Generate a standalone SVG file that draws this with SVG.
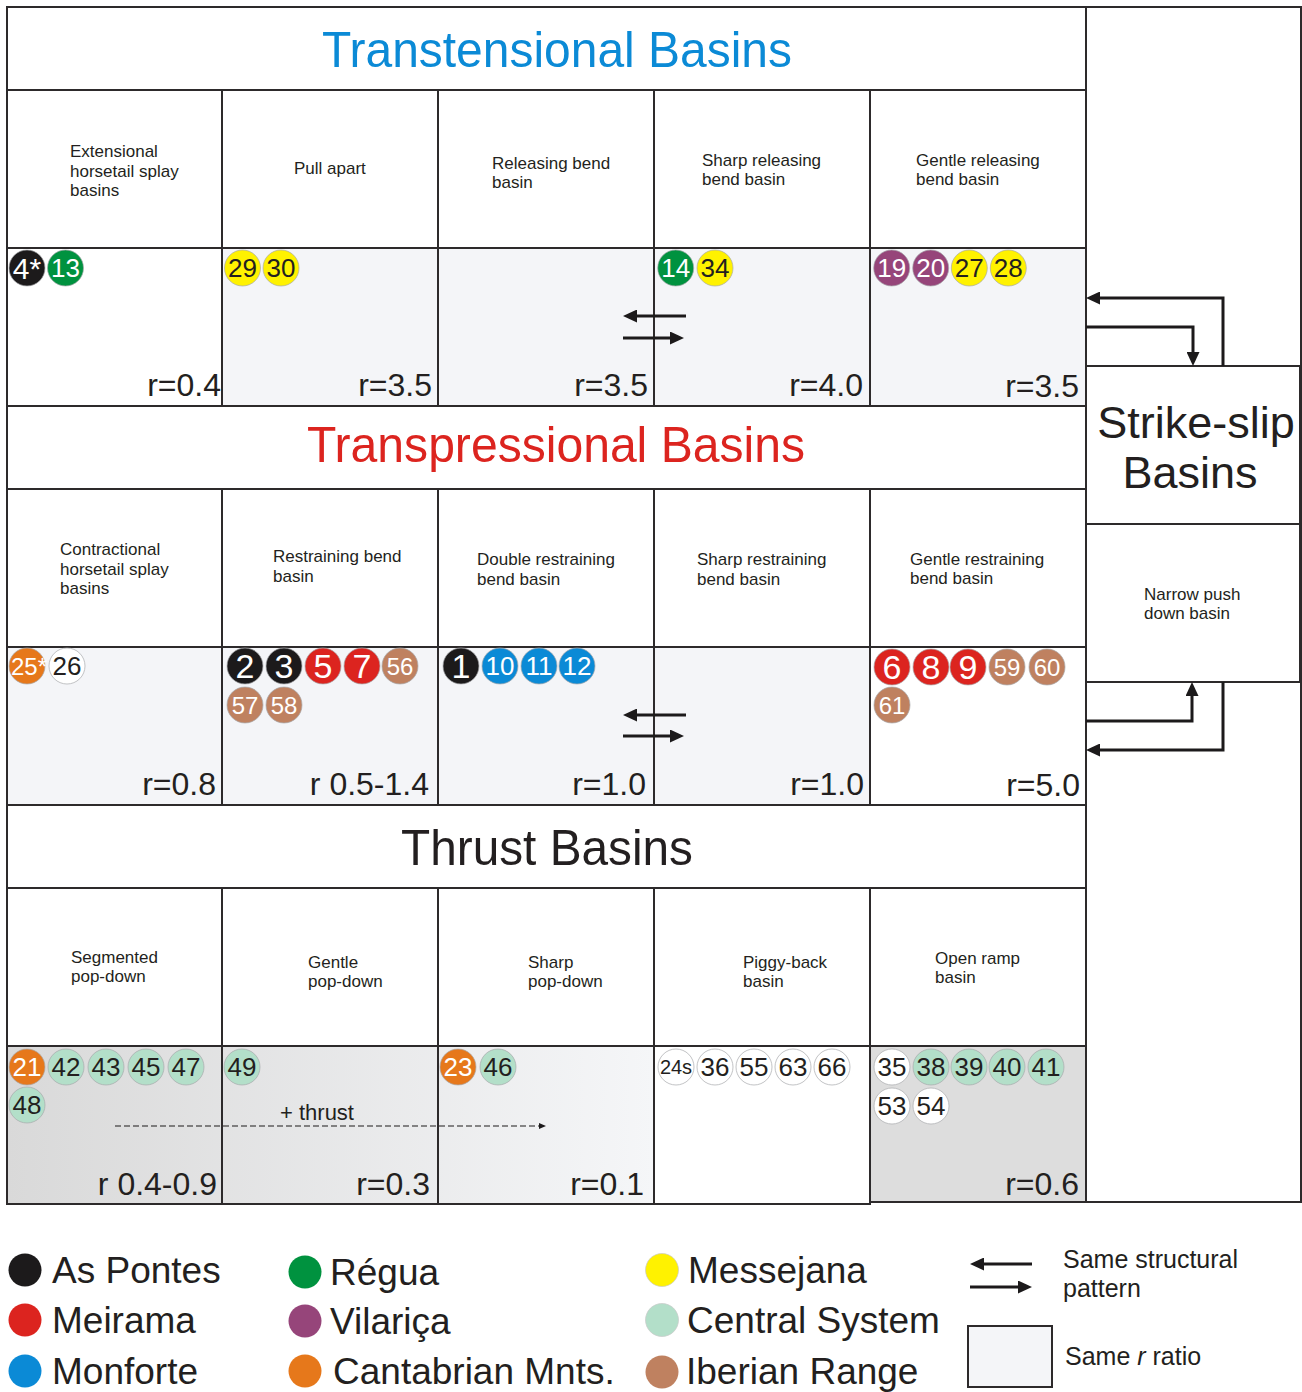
<svg xmlns="http://www.w3.org/2000/svg" width="1302" height="1392" viewBox="0 0 1302 1392">
<defs>
<style>
text{font-family:"Liberation Sans",Arial,sans-serif;fill:#231f20}
.cell{fill:#fff;stroke:#2d2a2b;stroke-width:2}
.sh{fill:#f4f5f8}
.nm{font-size:17px}
.rr{font-size:32px;text-anchor:end}
.hd{font-size:50px;text-anchor:middle}
.bd circle{stroke:#a7a9ac;stroke-width:0.7}
.bd text{text-anchor:middle;font-size:26px}
.bd text.s1{font-size:34px}
.bd text.w{fill:#fff}
.k{fill:#1c1a1b}.rd{fill:#dc241f}.bl{fill:#0b8ad6}.gr{fill:#00923f}.pu{fill:#96457a}
.or{fill:#e6781b}.ye{fill:#fff200}.cs{fill:#b3dfc9}.br{fill:#bf8160}.wh{fill:#fff}
.lg text{font-size:37px}
.con{fill:none;stroke:#1c1a1b;stroke-width:3}
</style>
<marker id="ah" viewBox="0 0 14 13" refX="4" refY="6.5" markerWidth="14" markerHeight="13" markerUnits="userSpaceOnUse" orient="auto"><path d="M0,0 L14,6.5 L0,13 z" fill="#1c1a1b"/></marker>
<marker id="ahs" viewBox="0 0 7 6" refX="2" refY="3" markerWidth="7" markerHeight="6" markerUnits="userSpaceOnUse" orient="auto"><path d="M0,0 L7,3 L0,6 z" fill="#1c1a1b"/></marker>
<linearGradient id="thr" gradientUnits="userSpaceOnUse" x1="7" y1="0" x2="654" y2="0"><stop offset="0" stop-color="#d9d9d9"/><stop offset="1" stop-color="#f5f6f8"/></linearGradient>
</defs>
<rect width="1302" height="1392" fill="#fff"/>

<!-- right column frame -->
<g id="strike-slip-column"><rect class="cell" x="1086" y="7" width="215" height="1195"/></g>

<!-- headers -->
<g id="hdr-transtensional"><rect class="cell" x="7" y="7" width="1079" height="83"/><text class="hd" x="557" y="67" textLength="470" lengthAdjust="spacingAndGlyphs" style="fill:#0b8ad6">Transtensional Basins</text></g>
<g id="hdr-transpressional"><rect class="cell" x="7" y="406" width="1079" height="83"/><text class="hd" x="556" y="462" textLength="498" lengthAdjust="spacingAndGlyphs" style="fill:#dc241f">Transpressional Basins</text></g>
<g id="hdr-thrust"><rect class="cell" x="7" y="805" width="1079" height="83"/><text class="hd" x="547" y="865" textLength="292" lengthAdjust="spacingAndGlyphs">Thrust Basins</text></g>

<!-- row 1 names -->
<g id="n-ext-horsetail"><rect class="cell" x="7" y="90" width="215" height="158"/><text class="nm" x="70" y="157">Extensional</text><text class="nm" x="70" y="177">horsetail splay</text><text class="nm" x="70" y="196">basins</text></g>
<g id="n-pull-apart"><rect class="cell" x="222" y="90" width="216" height="158"/><text class="nm" x="294" y="174">Pull apart</text></g>
<g id="n-releasing"><rect class="cell" x="438" y="90" width="216" height="158"/><text class="nm" x="492" y="169">Releasing bend</text><text class="nm" x="492" y="188">basin</text></g>
<g id="n-sharp-releasing"><rect class="cell" x="654" y="90" width="216" height="158"/><text class="nm" x="702" y="166">Sharp releasing</text><text class="nm" x="702" y="185">bend basin</text></g>
<g id="n-gentle-releasing"><rect class="cell" x="870" y="90" width="216" height="158"/><text class="nm" x="916" y="166">Gentle releasing</text><text class="nm" x="916" y="185">bend basin</text></g>

<!-- row 1 data -->
<g id="d-ext-horsetail"><rect class="cell" x="7" y="248" width="215" height="158"/><text class="rr" x="221" y="396">r=0.4</text>
<g class="bd"><circle class="k" cx="27" cy="268" r="18"/><text class="w" x="27" y="279" style="font-size:30px">4*</text><circle class="gr" cx="65.5" cy="268" r="18"/><text class="w" x="65.5" y="277">13</text></g></g>
<g id="d-pull-apart"><rect class="cell sh" x="222" y="248" width="216" height="158" style="stroke:#2d2a2b"/><text class="rr" x="432" y="396">r=3.5</text>
<g class="bd"><circle class="ye" cx="242.5" cy="268" r="18"/><text x="242.5" y="277">29</text><circle class="ye" cx="281" cy="268" r="18"/><text x="281" y="277">30</text></g></g>
<g id="d-releasing"><rect class="cell sh" x="438" y="248" width="216" height="158" style="stroke:#2d2a2b"/><text class="rr" x="648" y="396">r=3.5</text></g>
<g id="d-sharp-releasing"><rect class="cell sh" x="654" y="248" width="216" height="158" style="stroke:#2d2a2b"/><text class="rr" x="863" y="396">r=4.0</text>
<g class="bd"><circle class="gr" cx="675.7" cy="268" r="18"/><text class="w" x="675.7" y="277">14</text><circle class="ye" cx="715" cy="268" r="18"/><text x="715" y="277">34</text></g></g>
<g id="d-gentle-releasing"><rect class="cell sh" x="870" y="248" width="216" height="158" style="stroke:#2d2a2b"/><text class="rr" x="1079" y="397">r=3.5</text>
<g class="bd"><circle class="pu" cx="891.7" cy="268" r="18"/><text class="w" x="891.7" y="277">19</text><circle class="pu" cx="930.7" cy="268" r="18"/><text class="w" x="930.7" y="277">20</text><circle class="ye" cx="969.3" cy="268" r="18"/><text x="969.3" y="277">27</text><circle class="ye" cx="1008.3" cy="268" r="18"/><text x="1008.3" y="277">28</text></g></g>

<!-- row 2 names -->
<g id="n-contr-horsetail"><rect class="cell" x="7" y="489" width="215" height="158"/><text class="nm" x="60" y="555">Contractional</text><text class="nm" x="60" y="575">horsetail splay</text><text class="nm" x="60" y="594">basins</text></g>
<g id="n-restraining"><rect class="cell" x="222" y="489" width="216" height="158"/><text class="nm" x="273" y="562">Restraining bend</text><text class="nm" x="273" y="582">basin</text></g>
<g id="n-double-restraining"><rect class="cell" x="438" y="489" width="216" height="158"/><text class="nm" x="477" y="565">Double restraining</text><text class="nm" x="477" y="585">bend basin</text></g>
<g id="n-sharp-restraining"><rect class="cell" x="654" y="489" width="216" height="158"/><text class="nm" x="697" y="565">Sharp restraining</text><text class="nm" x="697" y="585">bend basin</text></g>
<g id="n-gentle-restraining"><rect class="cell" x="870" y="489" width="216" height="158"/><text class="nm" x="910" y="565">Gentle restraining</text><text class="nm" x="910" y="584">bend basin</text></g>

<!-- row 2 data -->
<g id="d-contr-horsetail"><rect class="cell sh" x="7" y="647" width="215" height="158" style="stroke:#2d2a2b"/><text class="rr" x="216" y="795">r=0.8</text>
<g class="bd"><circle class="or" cx="27" cy="666" r="18"/><text class="w" x="29" y="675" style="font-size:24px">25*</text><circle class="wh" cx="67" cy="666" r="18"/><text x="67" y="675">26</text></g></g>
<g id="d-restraining"><rect class="cell sh" x="222" y="647" width="216" height="158" style="stroke:#2d2a2b"/><text class="rr" x="429" y="795">r 0.5-1.4</text>
<g class="bd"><circle class="k" cx="245" cy="666" r="18"/><text class="w s1" x="245" y="678">2</text><circle class="k" cx="284" cy="666" r="18"/><text class="w s1" x="284" y="678">3</text><circle class="rd" cx="323" cy="666" r="18"/><text class="w s1" x="323" y="678">5</text><circle class="rd" cx="362" cy="666" r="18"/><text class="w s1" x="362" y="678">7</text><circle class="br" cx="400" cy="666" r="18"/><text class="w" x="400" y="675" style="font-size:24px">56</text>
<circle class="br" cx="245" cy="705" r="18"/><text class="w" x="245" y="714" style="font-size:24px">57</text><circle class="br" cx="284" cy="705" r="18"/><text class="w" x="284" y="714" style="font-size:24px">58</text></g></g>
<g id="d-double-restraining"><rect class="cell sh" x="438" y="647" width="216" height="158" style="stroke:#2d2a2b"/><text class="rr" x="646" y="795">r=1.0</text>
<g class="bd"><circle class="k" cx="461" cy="666" r="18"/><text class="w s1" x="461" y="678">1</text><circle class="bl" cx="500" cy="666" r="18"/><text class="w" x="500" y="675">10</text><circle class="bl" cx="539" cy="666" r="18"/><text class="w" x="539" y="675">11</text><circle class="bl" cx="577" cy="666" r="18"/><text class="w" x="577" y="675">12</text></g></g>
<g id="d-sharp-restraining"><rect class="cell sh" x="654" y="647" width="216" height="158" style="stroke:#2d2a2b"/><text class="rr" x="864" y="795">r=1.0</text></g>
<g id="d-gentle-restraining"><rect class="cell" x="870" y="647" width="216" height="158"/><text class="rr" x="1080" y="796">r=5.0</text>
<g class="bd"><circle class="rd" cx="892" cy="667" r="18"/><text class="w s1" x="892" y="679">6</text><circle class="rd" cx="931" cy="667" r="18"/><text class="w s1" x="931" y="679">8</text><circle class="rd" cx="968" cy="667" r="18"/><text class="w s1" x="968" y="679">9</text><circle class="br" cx="1007" cy="667" r="18"/><text class="w" x="1007" y="676" style="font-size:24px">59</text><circle class="br" cx="1047" cy="667" r="18"/><text class="w" x="1047" y="676" style="font-size:24px">60</text>
<circle class="br" cx="892" cy="705" r="18"/><text class="w" x="892" y="714" style="font-size:24px">61</text></g></g>

<!-- row 3 names -->
<g id="n-segmented"><rect class="cell" x="7" y="888" width="215" height="158"/><text class="nm" x="71" y="963">Segmented</text><text class="nm" x="71" y="982">pop-down</text></g>
<g id="n-gentle-popdown"><rect class="cell" x="222" y="888" width="216" height="158"/><text class="nm" x="308" y="968">Gentle</text><text class="nm" x="308" y="987">pop-down</text></g>
<g id="n-sharp-popdown"><rect class="cell" x="438" y="888" width="216" height="158"/><text class="nm" x="528" y="968">Sharp</text><text class="nm" x="528" y="987">pop-down</text></g>
<g id="n-piggyback"><rect class="cell" x="654" y="888" width="216" height="158"/><text class="nm" x="743" y="968">Piggy-back</text><text class="nm" x="743" y="987">basin</text></g>
<g id="n-open-ramp"><rect class="cell" x="870" y="888" width="216" height="158"/><text class="nm" x="935" y="964">Open ramp</text><text class="nm" x="935" y="983">basin</text></g>

<!-- row 3 data -->
<g id="d-segmented"><rect class="cell" x="7" y="1046" width="215" height="158" style="fill:url(#thr)"/><text class="rr" x="217" y="1195">r 0.4-0.9</text>
<g class="bd"><circle class="or" cx="27" cy="1067" r="18"/><text class="w" x="27" y="1076">21</text><circle class="cs" cx="66" cy="1067" r="18"/><text x="66" y="1076">42</text><circle class="cs" cx="106" cy="1067" r="18"/><text x="106" y="1076">43</text><circle class="cs" cx="146" cy="1067" r="18"/><text x="146" y="1076">45</text><circle class="cs" cx="186" cy="1067" r="18"/><text x="186" y="1076">47</text>
<circle class="cs" cx="27" cy="1105" r="18"/><text x="27" y="1114">48</text></g></g>
<g id="d-gentle-popdown"><rect class="cell" x="222" y="1046" width="216" height="158" style="fill:url(#thr)"/><text class="rr" x="430" y="1195">r=0.3</text>
<g class="bd"><circle class="cs" cx="242" cy="1067" r="18"/><text x="242" y="1076">49</text></g></g>
<g id="d-sharp-popdown"><rect class="cell" x="438" y="1046" width="216" height="158" style="fill:url(#thr)"/><text class="rr" x="644" y="1195">r=0.1</text>
<g class="bd"><circle class="or" cx="458" cy="1067" r="18"/><text class="w" x="458" y="1076">23</text><circle class="cs" cx="498" cy="1067" r="18"/><text x="498" y="1076">46</text></g></g>
<g id="d-piggyback"><rect class="cell" x="654" y="1046" width="216" height="158"/>
<g class="bd"><circle class="wh" cx="676" cy="1067" r="18"/><text x="676" y="1074" style="font-size:20px">24s</text><circle class="wh" cx="715" cy="1067" r="18"/><text x="715" y="1076">36</text><circle class="wh" cx="754" cy="1067" r="18"/><text x="754" y="1076">55</text><circle class="wh" cx="793" cy="1067" r="18"/><text x="793" y="1076">63</text><circle class="wh" cx="832" cy="1067" r="18"/><text x="832" y="1076">66</text></g></g>
<g id="d-open-ramp"><rect class="cell" x="870" y="1046" width="216" height="156" style="fill:#dddddd"/><text class="rr" x="1079" y="1195">r=0.6</text>
<g class="bd"><circle class="wh" cx="892" cy="1067" r="18"/><text x="892" y="1076">35</text><circle class="cs" cx="931" cy="1067" r="18"/><text x="931" y="1076">38</text><circle class="cs" cx="969" cy="1067" r="18"/><text x="969" y="1076">39</text><circle class="cs" cx="1007" cy="1067" r="18"/><text x="1007" y="1076">40</text><circle class="cs" cx="1046" cy="1067" r="18"/><text x="1046" y="1076">41</text>
<circle class="wh" cx="892" cy="1106" r="18"/><text x="892" y="1115">53</text><circle class="wh" cx="931" cy="1106" r="18"/><text x="931" y="1115">54</text></g></g>

<!-- thrust annotation -->
<g id="thrust-annotation"><text x="317" y="1120" style="font-size:22px;text-anchor:middle">+ thrust</text><path d="M115,1126 H541" fill="none" stroke="#1c1a1b" stroke-width="1.2" stroke-dasharray="6,3" marker-end="url(#ahs)"/></g>

<!-- strike-slip boxes -->
<g id="strike-slip-basins"><rect class="cell" x="1086" y="366" width="214" height="158"/><text x="1196" y="438" style="font-size:45px;text-anchor:middle">Strike-slip</text><text x="1190" y="488" style="font-size:45px;text-anchor:middle">Basins</text></g>
<g id="narrow-push-down"><rect class="cell" x="1086" y="524" width="214" height="158"/><text class="nm" x="1144" y="600">Narrow push</text><text class="nm" x="1144" y="619">down basin</text></g>

<!-- same structural pattern symbols -->
<g id="pattern-symbols">
<path class="con" d="M686,316 H633" marker-end="url(#ah)"/><path class="con" d="M623,338 H674" marker-end="url(#ah)"/>
<path class="con" d="M686,715 H633" marker-end="url(#ah)"/><path class="con" d="M623,736 H674" marker-end="url(#ah)"/>
</g>

<!-- connectors -->
<g id="connectors">
<path class="con" d="M1223,366 V298 H1096" marker-end="url(#ah)"/>
<path class="con" d="M1086,327 H1193 V356" marker-end="url(#ah)"/>
<path class="con" d="M1086,721 H1192 V692" marker-end="url(#ah)"/>
<path class="con" d="M1223,682 V750 H1096" marker-end="url(#ah)"/>
</g>

<!-- legend -->
<g id="legend" class="lg">
<g id="lg-as-pontes"><circle class="k" cx="25" cy="1270" r="16.5"/><text x="52" y="1283">As Pontes</text></g>
<g id="lg-meirama"><circle class="rd" cx="25" cy="1320" r="16.5"/><text x="52" y="1333">Meirama</text></g>
<g id="lg-monforte"><circle class="bl" cx="25" cy="1371" r="16.5"/><text x="52" y="1384">Monforte</text></g>
<g id="lg-regua"><circle class="gr" cx="305" cy="1272" r="16.5"/><text x="330" y="1285">Régua</text></g>
<g id="lg-vilarica"><circle class="pu" cx="305" cy="1321" r="16.5"/><text x="330" y="1334">Vilariça</text></g>
<g id="lg-cantabrian"><circle class="or" cx="305" cy="1371" r="16.5"/><text x="333" y="1384">Cantabrian Mnts.</text></g>
<g id="lg-messejana"><circle class="ye" cx="662" cy="1270" r="16.5" stroke="#c8c8c8" stroke-width="0.7"/><text x="688" y="1283">Messejana</text></g>
<g id="lg-central"><circle class="cs" cx="662" cy="1320" r="16.5" stroke="#c8c8c8" stroke-width="0.7"/><text x="687" y="1333">Central System</text></g>
<g id="lg-iberian"><circle class="br" cx="662" cy="1372" r="16.5"/><text x="686" y="1384">Iberian Range</text></g>
<g id="lg-pattern"><path class="con" d="M1032,1264 H980" marker-end="url(#ah)"/><path class="con" d="M970,1287 H1022" marker-end="url(#ah)"/><text x="1063" y="1268" style="font-size:25px">Same structural</text><text x="1063" y="1297" style="font-size:25px">pattern</text></g>
<g id="lg-ratio"><rect x="968" y="1326" width="84" height="61" fill="#f4f5f8" stroke="#2d2a2b" stroke-width="2"/><text x="1065" y="1365" style="font-size:25px">Same <tspan font-style="italic">r</tspan> ratio</text></g>
</g>
</svg>
